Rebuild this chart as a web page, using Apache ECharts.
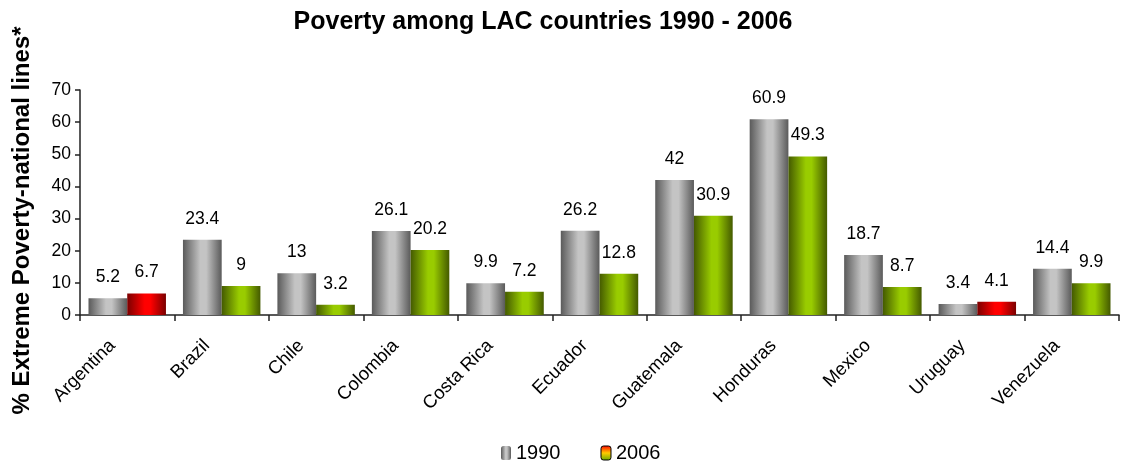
<!DOCTYPE html>
<html><head><meta charset="utf-8">
<script src="https://cdn.jsdelivr.net/npm/echarts@6/dist/echarts.min.js"></script>
<style>html,body{margin:0;padding:0;background:#fff}#c{width:1122px;height:468px}</style>
</head><body><div id="c"></div>
<script>
const categories = ['Argentina','Brazil','Chile','Colombia','Costa Rica','Ecuador','Guatemala','Honduras','Mexico','Uruguay','Venezuela'];
const values1990 = [5.2, 23.4, 13, 26.1, 9.9, 26.2, 42, 60.9, 18.7, 3.4, 14.4];
const values2006 = [6.7, 9, 3.2, 20.2, 7.2, 12.8, 30.9, 49.3, 8.7, 4.1, 9.9];
const yTicks = [0, 10, 20, 30, 40, 50, 60, 70];

function hGrad(edge, mid) {
  return new echarts.graphic.LinearGradient(0, 0, 1, 0, [
    {offset: 0, color: edge}, {offset: 0.45, color: mid}, {offset: 0.6, color: mid}, {offset: 1, color: edge}
  ]);
}
const grayG = hGrad('#5a5a5a', '#c4c4c4');
const greenG = hGrad('#445a00', '#99cc00');
const redG = hGrad('#7a0000', '#ff0000');

const font = '"Liberation Sans", Arial, sans-serif';
const chart = echarts.init(document.getElementById('c'));
const labelCfg = {show: true, position: 'top', distance: 12, color: '#000', fontSize: 17.5, fontFamily: font};

chart.setOption({
  animation: false,
  title: {text: 'Poverty among LAC countries 1990 - 2006', left: 538, textAlign: 'center', top: 5,
    textStyle: {fontFamily: font, fontWeight: 'bold', fontSize: 25, color: '#000'}},
  grid: {left: 80, right: 3, top: 90, bottom: 153, containLabel: false},
  legend: {
    bottom: 0, left: 496, itemWidth: 10, itemHeight: 14, itemGap: 40,
    textStyle: {fontFamily: font, fontSize: 20, color: '#000'},
    data: [
      {name: '1990', itemStyle: {color: grayG}},
      {name: '2006', itemStyle: {color: new echarts.graphic.LinearGradient(0,0,0,1,[{offset:0,color:'#ff0000'},{offset:0.5,color:'#ffcc00'},{offset:1,color:'#66aa00'}]), borderColor: '#000', borderWidth: 1}}
    ]
  },
  xAxis: {
    type: 'category', data: categories,
    axisLine: {lineStyle: {color: '#222', width: 1.5}},
    axisTick: {show: true, alignWithLabel: false, length: 6, lineStyle: {color: '#222', width: 1.5}},
    axisLabel: {rotate: 45, fontFamily: font, fontSize: 18.5, color: '#000', margin: 13, interval: 0, padding: [0, 21, 0, 0]}
  },
  yAxis: {
    type: 'value', min: yTicks[0], max: yTicks[yTicks.length - 1], interval: 10,
    name: '% Extreme Poverty-national lines*', nameLocation: 'middle', nameGap: 46,
    nameTextStyle: {fontFamily: font, fontWeight: 'bold', fontSize: 24, color: '#000', padding: [0, 0, 0, -36]},
    axisLine: {show: true, lineStyle: {color: '#222', width: 1.5}},
    axisTick: {show: true, length: 5, lineStyle: {color: '#222', width: 1.5}},
    splitLine: {show: false},
    axisLabel: {fontFamily: font, fontSize: 17.5, color: '#000', margin: 9}
  },
  series: [
    {name: '1990', type: 'bar', barCategoryGap: '18%', barGap: '0%',
     itemStyle: {color: grayG}, label: labelCfg, data: values1990},
    {name: '2006', type: 'bar', barCategoryGap: '18%', barGap: '0%',
     itemStyle: {color: greenG}, label: labelCfg,
     data: values2006.map((v, i) => v > values1990[i] ? {value: v, itemStyle: {color: redG}} : v)}
  ]
});
</script></body></html>
